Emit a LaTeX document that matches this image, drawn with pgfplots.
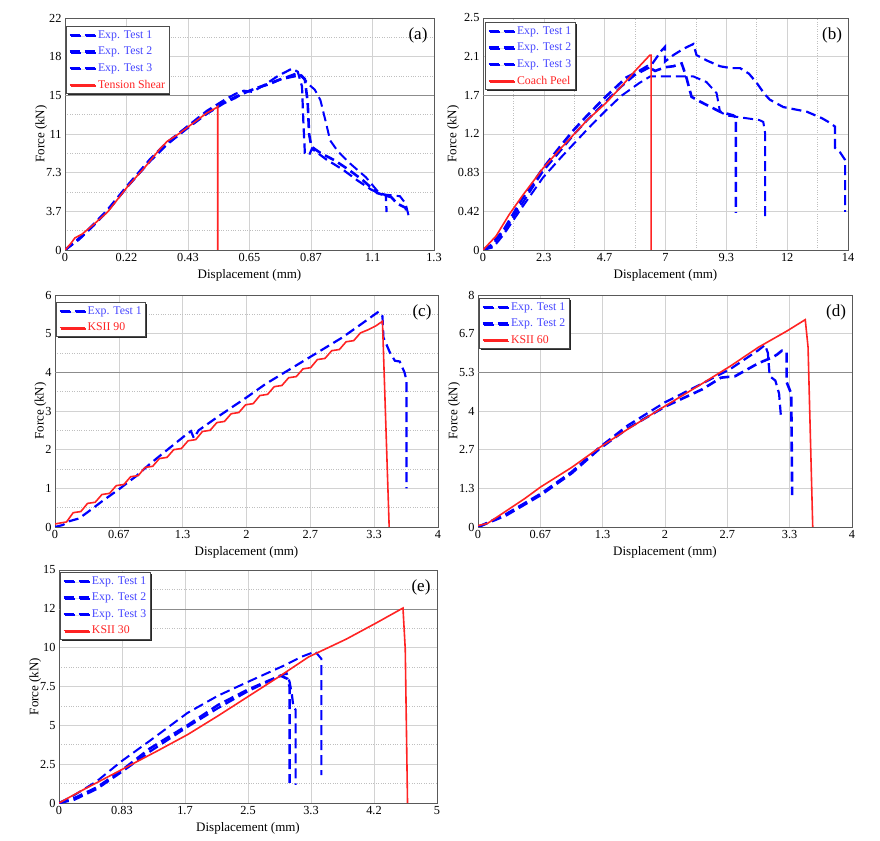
\documentclass[border=0pt]{standalone}
\usepackage{fontspec}
\setmainfont{Liberation Serif}
\usepackage{pgfplots}
\pgfplotsset{compat=1.18}
\usetikzlibrary{shadows}
\definecolor{expblue}{RGB}{0,0,255}
\definecolor{legblue}{RGB}{70,70,255}
\definecolor{simred}{RGB}{255,35,35}

\pgfplotsset{
 legend image code/.code={\draw[#1] (0pt,0pt) -- (25pt,0pt);},
 panel/.style={
  scale only axis, anchor=south west,
  xmin=0, ymin=0,
  axis line style={black!65},
  tick style={draw=none},
  minor tick num=1,
  grid=both,
  major grid style={gray!35, line width=0.6pt},
  minor grid style={gray!50, dotted, line width=0.6pt},
  tick label style={font=\fontsize{12.3}{14}\selectfont},
  label style={font=\fontsize{13}{15}\selectfont},
  /pgf/number format/assume math mode=true,
  xlabel={Displacement (mm)}, ylabel={Force (kN)},
  xlabel style={yshift=-1pt},
  ylabel style={yshift=-8pt},
  legend cell align=left,
  legend style={at={(0,1)}, anchor=north west,
    font=\fontsize{11.8}{13}\selectfont, draw=black!70, line width=0.8pt,
    fill=white, inner sep=2pt, row sep=3.2pt,
    /tikz/every even column/.append style={column sep=1pt},
    drop shadow={shadow xshift=1.3pt, shadow yshift=-1.3pt, fill=black!85, opacity=1}},
  extra y tick labels={},
  extra y tick style={grid=major, major grid style={black!45, line width=0.6pt}},
 },
 exA/.style={expblue, line width=2.2pt, dash pattern=on 10pt off 5pt},
 exB/.style={expblue, line width=2.6pt, dash pattern=on 10pt off 5pt},
 exC/.style={expblue, line width=2.0pt, dash pattern=on 10pt off 5pt},
 sim/.style={simred, line width=1.6pt},
}
\newcommand{\plab}[1]{\node[font=\fontsize{17}{19}\selectfont] at ([xshift=-16pt,yshift=-17pt]rel axis cs:1,1) {#1};}

\begin{document}
\begin{tikzpicture}
\useasboundingbox (0,0) rectangle (880pt,840pt);

% ---------------- (a)
\begin{axis}[panel, at={(65pt,590pt)}, width=369pt, height=232pt,
  xmax=1.3, ymax=22,
  xtick={0,0.216667,0.433333,0.65,0.866667,1.083333,1.3},
  xticklabels={0,0.22,0.43,0.65,0.87,1.1,1.3},
  ytick={0,3.666667,7.333333,11,14.666667,18.333333,22},
  yticklabels={0,3.7,7.3,11,15,18,22},
  extra y ticks={14.666667},
  legend style={at={(0,1)}, xshift=1pt, yshift=-8pt}]
\addplot[exA] coordinates {(0,0) (0.05,1.0) (0.1,2.3) (0.15,3.7) (0.22,6.0) (0.3,8.5) (0.36,10.2) (0.43,11.7) (0.5,13.2) (0.56,14.2) (0.6,14.8) (0.63,15.1) (0.66,15.0) (0.7,15.6) (0.75,16.5) (0.8,17.2) (0.82,16.9) (0.835,15.5) (0.84,12) (0.845,9.2) (0.86,9.0) (0.87,9.6) (0.92,8.6) (0.98,7.6) (1.03,6.6) (1.08,5.7) (1.13,5.2) (1.133,3.6)};
\addplot[exB] coordinates {(0,0) (0.05,1.1) (0.1,2.4) (0.15,3.8) (0.22,6.1) (0.3,8.6) (0.36,10.2) (0.43,11.6) (0.5,13.0) (0.56,14.0) (0.6,14.5) (0.65,15.1) (0.7,15.6) (0.76,16.2) (0.83,16.6) (0.845,16.2) (0.855,14) (0.86,11) (0.868,9.8) (0.9,9.2) (0.95,8.5) (1.0,7.6) (1.05,6.6) (1.1,5.4) (1.15,5.0) (1.17,4.4) (1.2,4.0) (1.204,3.5)};
\addplot[exC] coordinates {(0,0) (0.05,1.1) (0.1,2.3) (0.15,3.7) (0.22,6.0) (0.3,8.4) (0.36,10.0) (0.43,11.5) (0.5,12.9) (0.56,13.9) (0.6,14.4) (0.63,14.9) (0.67,15.3) (0.72,15.7) (0.78,16.4) (0.82,16.8) (0.85,16.0) (0.863,15.6) (0.88,15.2) (0.9,14.2) (0.92,12.0) (0.934,10.4) (0.96,9.4) (1.0,8.3) (1.06,6.9) (1.11,5.3) (1.18,5.1) (1.2,4.4) (1.21,3.3)};
\addplot[sim] coordinates {(0,0) (0.02,0.6) (0.035,1.15) (0.06,1.5) (0.1,2.4) (0.15,3.6) (0.22,6.0) (0.28,7.8) (0.335,9.6) (0.36,10.3) (0.4,11.0) (0.45,12.0) (0.5,13.0) (0.534,13.5) (0.538,13.6) (0.538,0)};
\legend{\textcolor{legblue}{Exp. Test 1},\textcolor{legblue}{Exp. Test 2},\textcolor{legblue}{Exp. Test 3},\textcolor{simred}{Tension Shear}}
\plab{(a)}
\end{axis}

% ---------------- (b)
\begin{axis}[panel, at={(483pt,590pt)}, width=365pt, height=232pt,
  xmax=14, ymax=2.5,
  xtick={0,2.333333,4.666667,7,9.333333,11.666667,14},
  xticklabels={0,2.3,4.7,7,9.3,12,14},
  ytick={0,0.416667,0.833333,1.25,1.666667,2.083333,2.5},
  yticklabels={0,0.42,0.83,1.2,1.7,2.1,2.5},
  extra y ticks={1.666667},
  legend style={at={(0,1)}, xshift=2pt, yshift=-4pt}]
\addplot[exA] coordinates {(0,0) (0.3,0.03) (0.8,0.2) (1.5,0.5) (2.3,0.85) (3,1.08) (3.5,1.25) (4,1.4) (4.7,1.6) (5.3,1.76) (5.8,1.88) (6.4,1.97) (6.6,2.05) (6.85,2.15) (6.98,2.19) (6.98,2.03) (7.3,2.1) (7.7,2.17) (8.07,2.22) (8.19,2.1) (8.6,2.04) (9.09,1.98) (9.5,1.96) (9.86,1.96) (10.2,1.9) (10.5,1.8) (10.8,1.68) (11.0,1.62) (11.52,1.54) (12.42,1.49) (13.0,1.42) (13.31,1.37) (13.5,1.33) (13.5,1.1) (13.7,1.05) (13.89,0.97) (13.89,0.41)};
\addplot[exB] coordinates {(0,0) (0.3,0.05) (0.8,0.22) (1.5,0.55) (2.3,0.88) (3.0,1.13) (3.5,1.3) (4.0,1.45) (4.7,1.65) (5.5,1.86) (6.0,1.93) (6.3,1.98) (6.6,1.93) (7.0,1.97) (7.3,1.98) (7.62,2.01) (7.79,1.87) (8.0,1.65) (8.32,1.6) (9.09,1.49) (9.6,1.45) (9.7,1.43) (9.7,0.40)};
\addplot[exC] coordinates {(0,0) (0.4,0.03) (0.8,0.17) (1.5,0.46) (2.3,0.78) (3,1.0) (3.5,1.15) (4,1.3) (4.7,1.5) (5.3,1.66) (6.0,1.8) (6.41,1.87) (6.85,1.87) (7.42,1.87) (8.07,1.87) (8.57,1.81) (8.96,1.69) (9.09,1.49) (9.34,1.45) (10.1,1.42) (10.6,1.40) (10.75,1.38) (10.82,1.26) (10.82,0.36)};
\addplot[sim] coordinates {(0,0) (0.5,0.15) (1,0.38) (1.5,0.58) (2.3,0.88) (3,1.1) (3.5,1.25) (4,1.4) (4.7,1.58) (5.3,1.76) (5.8,1.92) (6.4,2.1) (6.45,2.1) (6.45,0)};
\legend{\textcolor{legblue}{Exp. Test 1},\textcolor{legblue}{Exp. Test 2},\textcolor{legblue}{Exp. Test 3},\textcolor{simred}{Coach Peel}}
\plab{(b)}
\end{axis}

% ---------------- (c)
\begin{axis}[panel, at={(55pt,313pt)}, width=383pt, height=232pt,
  xmax=4, ymax=6,
  xtick={0,0.666667,1.333333,2,2.666667,3.333333,4},
  xticklabels={0,0.67,1.3,2,2.7,3.3,4},
  ytick={0,1,2,3,4,5,6},
  extra y ticks={4},
  legend style={at={(0,1)}, xshift=1pt, yshift=-7pt}]
\addplot[exA] coordinates {(0,0) (0.08,0.05) (0.15,0.15) (0.25,0.22) (0.35,0.4) (0.5,0.68) (0.67,0.98) (0.85,1.32) (1.0,1.65) (1.2,2.05) (1.35,2.35) (1.42,2.48) (1.45,2.3) (1.5,2.5) (1.7,2.85) (2.0,3.35) (2.2,3.7) (2.4,4.0) (2.7,4.45) (3.0,4.9) (3.2,5.25) (3.38,5.57) (3.42,5.45) (3.43,4.9) (3.5,4.5) (3.55,4.3) (3.6,4.28) (3.65,4.0) (3.67,3.8) (3.67,1.0)};
\addplot[sim] coordinates {(0,0.08) (0.12,0.13) (0.19,0.37) (0.27,0.40) (0.34,0.61) (0.42,0.64) (0.49,0.84) (0.57,0.87) (0.64,1.07) (0.72,1.10) (0.79,1.30) (0.87,1.33) (0.94,1.54) (1.02,1.57) (1.09,1.77) (1.17,1.80) (1.24,2.00) (1.32,2.03) (1.39,2.23) (1.47,2.26) (1.54,2.47) (1.62,2.50) (1.69,2.70) (1.77,2.73) (1.84,2.93) (1.92,2.96) (1.99,3.16) (2.07,3.19) (2.14,3.40) (2.22,3.43) (2.29,3.63) (2.37,3.66) (2.44,3.86) (2.52,3.89) (2.59,4.09) (2.67,4.12) (2.74,4.33) (2.82,4.36) (2.89,4.56) (2.97,4.59) (3.04,4.79) (3.12,4.82) (3.19,5.02) (3.27,5.10) (3.35,5.2) (3.42,5.32) (3.49,0)};
\legend{\textcolor{legblue}{Exp. Test 1},\textcolor{simred}{KSII 90}}
\plab{(c)}
\end{axis}

% ---------------- (d)
\begin{axis}[panel, at={(478pt,313pt)}, width=374pt, height=232pt,
  xmax=4, ymax=8,
  xtick={0,0.666667,1.333333,2,2.666667,3.333333,4},
  xticklabels={0,0.67,1.3,2,2.7,3.3,4},
  ytick={0,1.333333,2.666667,4,5.333333,6.666667,8},
  yticklabels={0,1.3,2.7,4,5.3,6.7,8},
  extra y ticks={5.333333},
  legend style={at={(0,1)}, xshift=1pt, yshift=-3pt}]
\addplot[exA] coordinates {(0,0) (0.3,0.45) (0.67,1.15) (1.0,1.9) (1.3,2.75) (1.6,3.5) (2.0,4.3) (2.4,4.95) (2.7,5.45) (3.0,6.1) (3.07,6.28) (3.1,6.0) (3.12,5.2) (3.18,5.05) (3.22,4.6) (3.24,3.8)};
\addplot[exB] coordinates {(0,0) (0.3,0.4) (0.67,1.1) (1.0,1.85) (1.3,2.7) (1.6,3.4) (2.0,4.15) (2.4,4.75) (2.6,5.15) (2.75,5.2) (3.0,5.65) (3.15,5.85) (3.2,5.95) (3.25,6.08) (3.3,6.05) (3.3,5.0) (3.35,4.6) (3.36,1.1)};
\addplot[sim] coordinates {(0,0.05) (0.1,0.12) (0.3,0.55) (0.5,0.98) (0.67,1.38) (1.0,2.05) (1.3,2.74) (1.6,3.37) (2.0,4.17) (2.4,4.95) (2.7,5.55) (3.0,6.2) (3.3,6.75) (3.5,7.15) (3.53,6.2) (3.58,0)};
\legend{\textcolor{legblue}{Exp. Test 1},\textcolor{legblue}{Exp. Test 2},\textcolor{simred}{KSII 60}}
\plab{(d)}
\end{axis}

% ---------------- (e)
\begin{axis}[panel, at={(59pt,37pt)}, width=378pt, height=233pt,
  xmax=5, ymax=15,
  xtick={0,0.833333,1.666667,2.5,3.333333,4.166667,5},
  xticklabels={0,0.83,1.7,2.5,3.3,4.2,5},
  ytick={0,2.5,5,7.5,10,12.5,15},
  yticklabels={0,2.5,5,7.5,10,12,15},
  extra y ticks={12.5},
  legend style={at={(0,1)}, xshift=1pt, yshift=-2pt}]
\addplot[exA] coordinates {(0,0) (0.2,0.2) (0.5,0.9) (0.83,2.0) (1.2,3.3) (1.7,4.9) (2.1,6.1) (2.5,7.2) (2.8,7.9) (3.01,8.35) (3.05,7.8) (3.08,7.0) (3.1,6.2) (3.13,6.0) (3.13,1.16)};
\addplot[exB] coordinates {(0,0) (0.2,0.3) (0.5,1.0) (0.83,2.1) (1.2,3.5) (1.7,5.0) (2.1,6.3) (2.5,7.3) (2.93,8.2) (3.02,8.0) (3.05,7.5) (3.05,1.3)};
\addplot[exC] coordinates {(0,0) (0.2,0.5) (0.5,1.4) (0.83,2.7) (1.2,4.0) (1.7,5.8) (2.1,6.9) (2.5,7.8) (3.0,8.9) (3.2,9.4) (3.39,9.75) (3.45,9.4) (3.47,9.3) (3.47,1.8)};
\addplot[sim] coordinates {(0,0) (0.3,0.8) (0.83,2.15) (1.3,3.35) (1.7,4.4) (2.1,5.6) (2.5,6.85) (2.9,8.1) (3.3,9.4) (3.8,10.55) (4.2,11.6) (4.55,12.55) (4.58,9.9) (4.61,0)};
\legend{\textcolor{legblue}{Exp. Test 1},\textcolor{legblue}{Exp. Test 2},\textcolor{legblue}{Exp. Test 3},\textcolor{simred}{KSII 30}}
\plab{(e)}
\end{axis}
\end{tikzpicture}
\end{document}
